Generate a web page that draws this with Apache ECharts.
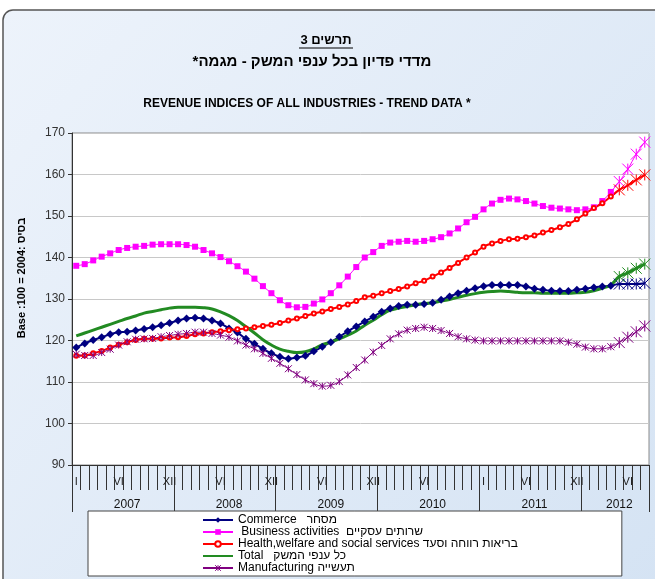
<!DOCTYPE html>
<html>
<head>
<meta charset="utf-8">
<script src="https://cdn.jsdelivr.net/npm/echarts@6/dist/echarts.min.js"></script>
<style>
  html, body { margin: 0; padding: 0; background: #fff; }
  #chart { width: 655px; height: 579px; }
</style>
</head>
<body>
<div id="chart"></div>
<script>
// ejes
const years = ['2007', '2008', '2009', '2010', '2011', '2012'];
const monthsInYear = [12, 12, 12, 12, 12, 8];
const monthLabels = [
  'I', '', '', '', '', 'VI', '', '', '', '', '', 'XII',
  '', '', '', '', '', 'VI', '', '', '', '', '', 'XII',
  '', '', '', '', '', 'VI', '', '', '', '', '', 'XII',
  '', '', '', '', '', 'VI', '', '', '', '', '', '',
  'I', '', '', '', '', 'VI', '', '', '', '', '', 'XII',
  '', '', '', '', '', 'VI', '', ''
];

// series (mensuales, ene 2007 - ago 2012)
const commerce = [
  118.3, 119.3, 120.1, 120.8, 121.5, 122.0, 122.1, 122.4, 122.8, 123.2, 123.7, 124.2,
  124.8, 125.3, 125.5, 125.3, 124.8, 124.1, 122.9, 121.9, 120.4, 119.2, 118.0, 116.9,
  116.1, 115.6, 115.9, 116.3, 117.4, 118.5, 119.6, 120.9, 122.2, 123.4, 124.6, 125.7,
  126.9, 127.7, 128.3, 128.6, 128.6, 128.8, 129.1, 129.8, 130.6, 131.4, 132.0, 132.6,
  133.1, 133.4, 133.4, 133.4, 133.4, 133.0, 132.5, 132.2, 132.0, 131.9, 131.9, 132.2,
  132.5, 132.8, 133.0, 133.2, 133.6, 133.6, 133.6, 133.8
];
const business = [
  138.0, 138.4, 139.3, 140.2, 141.0, 141.8, 142.3, 142.6, 142.8, 143.1, 143.2, 143.2,
  143.2, 143.0, 142.6, 141.8, 141.0, 140.1, 139.1, 137.9, 136.6, 134.9, 133.1, 131.4,
  129.7, 128.5, 128.0, 128.1, 128.9, 129.9, 131.4, 133.3, 135.4, 137.7, 140.0, 141.3,
  142.8, 143.6, 143.8, 144.0, 143.8, 144.0, 144.4, 144.9, 145.8, 147.0, 148.5, 149.8,
  151.6, 153.0, 153.9, 154.2, 154.0, 153.6, 153.0, 152.4, 152.0, 151.8, 151.6, 151.4,
  151.6, 152.1, 153.6, 155.8, 158.3, 161.3, 164.9, 167.8
];
const health = [
  116.3, 116.4, 116.9, 117.5, 118.3, 119.0, 119.6, 120.1, 120.4, 120.4, 120.5, 120.7,
  120.8, 121.1, 121.5, 121.7, 122.0, 122.2, 122.5, 122.7, 122.9, 123.2, 123.5, 123.8,
  124.2, 124.8, 125.3, 125.9, 126.5, 127.0, 127.6, 128.1, 128.7, 129.5, 130.4, 130.8,
  131.4, 131.9, 132.4, 133.0, 133.8, 134.4, 135.4, 136.4, 137.5, 138.7, 140.0, 141.2,
  142.6, 143.4, 144.0, 144.4, 144.5, 144.9, 145.3, 146.0, 146.6, 147.3, 148.1, 149.2,
  150.6, 151.9, 153.1, 154.7, 156.3, 157.4, 158.7, 159.9
];
const total = [
  121.1, 121.8, 122.5, 123.2, 123.9, 124.6, 125.3, 125.9, 126.6, 127.0, 127.4, 127.8,
  128.0, 128.0, 128.0, 127.9, 127.6, 126.9, 126.0, 124.8, 123.3, 121.8, 120.2, 118.9,
  117.9, 117.4, 117.1, 117.3, 118.0, 119.0, 119.6, 120.4, 121.3, 122.3, 123.7, 124.9,
  126.2, 127.3, 127.8, 128.2, 128.6, 128.9, 129.1, 129.5, 129.9, 130.4, 130.9, 131.3,
  131.6, 131.8, 131.9, 131.8, 131.6, 131.5, 131.5, 131.4, 131.4, 131.4, 131.4, 131.5,
  131.6, 132.0, 132.6, 133.4, 135.4, 136.3, 137.4, 138.4
];
const manufacturing = [
  116.7, 116.4, 116.4, 117.1, 117.9, 118.9, 119.7, 120.3, 120.4, 120.5, 120.9, 121.2,
  121.5, 121.7, 122.0, 122.0, 121.7, 121.3, 120.8, 119.9, 118.9, 118.0, 116.9, 115.7,
  114.5, 113.2, 111.8, 110.5, 109.6, 109.0, 109.2, 110.1, 111.7, 113.5, 115.3, 117.2,
  118.8, 120.4, 121.6, 122.5, 122.9, 123.2, 122.9, 122.4, 121.7, 120.9, 120.4, 120.1,
  119.9, 119.9, 119.9, 119.9, 119.9, 119.9, 119.9, 119.9, 119.9, 119.9, 119.6, 119.1,
  118.4, 118.0, 118.0, 118.5, 119.5, 120.8, 122.1, 123.5
];

const nombres = [
  'Commerce   מסחר',
  ' Business activities  שרותים עסקיים',
  'Health,welfare and social services בריאות רווחה וסעד',
  'Total   כל ענפי המשק',
  'Manufacturing תעשייה'
];

// categorias mensuales
const months = [];
const yearStart = [];
const yearMid = {};
years.forEach((y, k) => {
  yearStart.push(months.length);
  yearMid[months.length + Math.floor(monthsInYear[k] / 2)] = y;
  for (let m = 1; m <= monthsInYear[k]; m++) months.push(y + '-' + m);
});
yearStart.push(months.length);

const STAR = 'path://M0,0L10,10M10,0L0,10M5,0L5,10';
const ultimos = 64; // los ultimos meses se marcan con asterisco grande

function datos(valores, color) {
  return valores.map((v, i) => i < ultimos ? v : {
    value: v,
    symbol: STAR,
    symbolSize: 11,
    itemStyle: { color: 'none', borderColor: color, borderWidth: 1 }
  });
}

function serie(nombre, valores, color, extra) {
  return Object.assign({
    name: nombre,
    type: 'line',
    smooth: 0.4,
    data: datos(valores, color),
    lineStyle: { color: color, width: 2 },
    itemStyle: { color: color },
    emphasis: { disabled: true },
    z: 3
  }, extra);
}

const chart = echarts.init(document.getElementById('chart'), null, { renderer: 'canvas' });

const opciones = {
  backgroundColor: '#ffffff',
  animation: false,
  textStyle: { fontFamily: 'Arial, "Liberation Sans", sans-serif' },
  grid: {
    left: 72, right: 6, top: 133, bottom: 114,
    show: true, backgroundColor: '#ffffff', borderColor: '#8a8a8a', borderWidth: 1
  },
  graphic: [
    {
      type: 'rect', z: -10, silent: true,
      shape: { x: 3, y: 10, width: 700, height: 620, r: 10 },
      style: {
        fill: new echarts.graphic.LinearGradient(0, 0, 1, 1, [
          { offset: 0, color: '#edf3fb' },
          { offset: 1, color: '#d3e2f3' }
        ]),
        stroke: '#555', lineWidth: 1.5
      }
    },
    {
      type: 'text', x: 326, y: 40, z: 10,
      style: { text: '3 תרשים', font: 'bold 13px Arial', fill: '#000', align: 'center', verticalAlign: 'middle' }
    },
    {
      type: 'line', z: 10, silent: true,
      shape: { x1: 299, y1: 48, x2: 353, y2: 48 },
      style: { stroke: '#000', lineWidth: 1 }
    },
    {
      type: 'text', x: 312, y: 62, z: 10,
      style: { text: '*מדדי פדיון בכל ענפי המשק - מגמה', font: 'bold 15px Arial', fill: '#000', align: 'center', verticalAlign: 'middle' }
    },
    {
      type: 'text', x: 307, y: 104, z: 10,
      style: { text: 'REVENUE INDICES OF ALL INDUSTRIES - TREND DATA *', font: 'bold 12px Arial', fill: '#000', align: 'center', verticalAlign: 'middle' }
    },
    {
      type: 'text', x: 22, y: 278, z: 10, rotation: Math.PI / 2,
      style: { text: 'Base :100 = 2004: בסיס', font: 'bold 11px Arial', fill: '#000', align: 'center', verticalAlign: 'middle' }
    }
  ],
  legend: {
    orient: 'vertical',
    left: 88, top: 511,
    padding: [3, 104, 2, 114],
    itemWidth: 30, itemHeight: 7, itemGap: 0,
    backgroundColor: '#ffffff', borderColor: '#444', borderWidth: 1, borderRadius: 0,
    textStyle: { fontSize: 12, color: '#000', lineHeight: 10.5, fontFamily: 'Arial' },
    data: [
      nombres[0],
      nombres[1],
      { name: nombres[2], itemStyle: { color: '#ff0000', borderColor: '#ff0000' } },
      { name: nombres[3], itemStyle: { opacity: 0 } },
      { name: nombres[4], itemStyle: { color: 'none', borderColor: '#800080', borderWidth: 1 } }
    ]
  },
  xAxis: [
    {
      type: 'category', data: months, boundaryGap: true,
      axisLine: { show: true, lineStyle: { color: '#333' } },
      axisTick: { show: true, interval: 0, length: 25, lineStyle: { color: '#333' } },
      axisLabel: {
        interval: 0, margin: 11, fontSize: 11, color: '#222',
        formatter: (v, i) => monthLabels[i]
      },
      splitLine: { show: false }
    },
    {
      type: 'category', data: months, boundaryGap: true, position: 'bottom',
      axisLine: { show: false },
      axisTick: { show: true, interval: (i) => yearStart.includes(i), length: 47, lineStyle: { color: '#333' } },
      axisLabel: {
        interval: (i) => yearMid[i] !== undefined, margin: 34, fontSize: 12, color: '#111',
        formatter: (v, i) => yearMid[i] || ''
      },
      splitLine: { show: false }
    }
  ],
  yAxis: {
    type: 'value', min: 90, max: 170, interval: 10,
    axisLine: { show: true, lineStyle: { color: '#333' } },
    axisTick: { show: true, length: 4, lineStyle: { color: '#333' } },
    axisLabel: { fontSize: 12, color: '#333', margin: 7 },
    splitLine: { lineStyle: { color: '#c8c8c8' } }
  },
  series: [
    serie(nombres[0], commerce, '#000080', {
      symbol: 'diamond', symbolSize: 8
    }),
    serie(nombres[1], business, '#ff00ff', {
      symbol: 'rect', symbolSize: 6, lineStyle: { color: '#ff00ff', width: 1 }
    }),
    serie(nombres[2], health, '#ff0000', {
      symbol: 'emptyCircle', symbolSize: 4
    }),
    serie(nombres[3], total, '#228b22', {
      symbol: 'none', lineStyle: { color: '#228b22', width: 3 }
    }),
    serie(nombres[4], manufacturing, '#800080', {
      symbol: STAR, symbolSize: 7, lineStyle: { color: '#800080', width: 1 },
      itemStyle: { color: 'none', borderColor: '#800080', borderWidth: 1 }
    })
  ]
};

chart.setOption(opciones);
</script>
</body>
</html>
